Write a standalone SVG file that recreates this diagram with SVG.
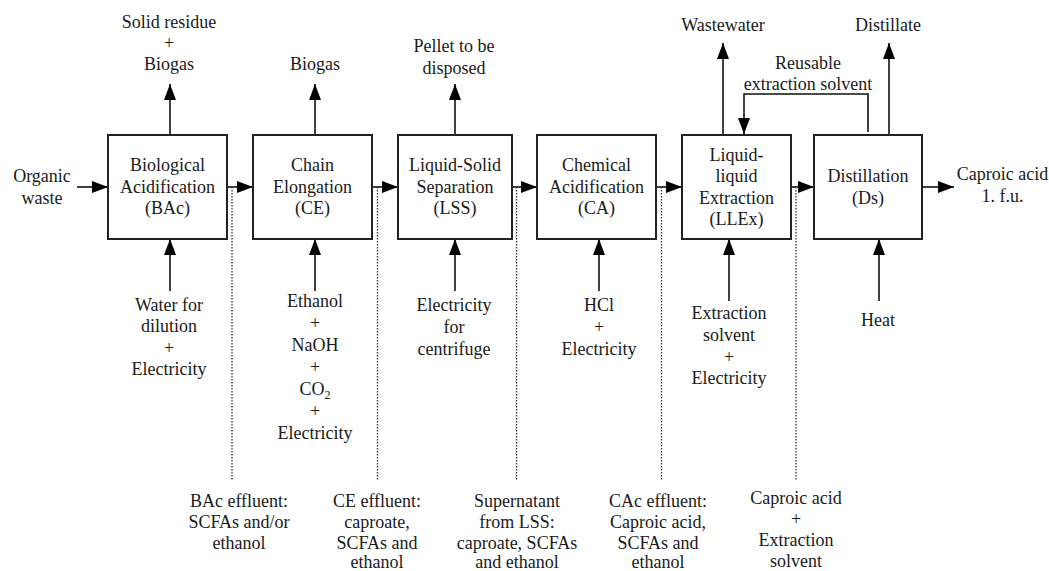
<svg xmlns="http://www.w3.org/2000/svg" width="1049" height="571" viewBox="0 0 1049 571">
<defs>
<marker id="ah" markerUnits="userSpaceOnUse" markerWidth="17" markerHeight="13" refX="16" refY="6" orient="auto">
<path d="M0,0 L16,6 L0,12 z" fill="#000"/>
</marker>
<style>
text{font-family:"Liberation Serif","Times New Roman",serif;font-size:18px;fill:#1a1a1a;text-anchor:middle}
.box{fill:#fff;stroke:#222;stroke-width:2}
.ar{fill:none;stroke:#111;stroke-width:1.6;marker-end:url(#ah)}
.dot{fill:none;stroke:#333;stroke-width:1.3;stroke-dasharray:1.5,1.5}
.sub{font-size:12px}
</style>
</defs>
<rect width="1049" height="571" fill="#fff"/>

<g id="connectors">
<line class="ar" x1="77" y1="187" x2="108" y2="187"/>
<line class="ar" x1="227" y1="187" x2="253" y2="187"/>
<line class="ar" x1="372" y1="187" x2="398" y2="187"/>
<line class="ar" x1="512" y1="187" x2="537" y2="187"/>
<line class="ar" x1="656" y1="187" x2="682" y2="187"/>
<line class="ar" x1="791" y1="187" x2="814" y2="187"/>
<line class="ar" x1="922" y1="187" x2="954" y2="187"/>
<line class="ar" x1="170" y1="135" x2="170" y2="84"/>
<line class="ar" x1="315" y1="135" x2="315" y2="84"/>
<line class="ar" x1="455" y1="135" x2="455" y2="84"/>
<line class="ar" x1="723" y1="135" x2="723" y2="43"/>
<line class="ar" x1="889" y1="135" x2="889" y2="43"/>
<polyline class="ar" points="868,132 868,94 744,94 744,134"/>
<line class="ar" x1="170" y1="291" x2="170" y2="239"/>
<line class="ar" x1="315" y1="291" x2="315" y2="239"/>
<line class="ar" x1="455" y1="291" x2="455" y2="239"/>
<line class="ar" x1="599" y1="291" x2="599" y2="239"/>
<line class="ar" x1="729" y1="301" x2="729" y2="239"/>
<line class="ar" x1="879" y1="301" x2="879" y2="239"/>
<line class="dot" x1="232" y1="187" x2="232" y2="480"/>
<line class="dot" x1="377.5" y1="187" x2="377.5" y2="480"/>
<line class="dot" x1="516.5" y1="187" x2="516.5" y2="480"/>
<line class="dot" x1="661.5" y1="187" x2="661.5" y2="480"/>
<line class="dot" x1="796" y1="187" x2="796" y2="480"/>
</g>

<g id="node-bac">
<rect class="box" x="108" y="135" width="119" height="104"/>
<text x="167.5" y="171">Biological</text>
<text x="167.5" y="192.5">Acidification</text>
<text x="167.5" y="214">(BAc)</text>
</g>
<g id="node-ce">
<rect class="box" x="253" y="135" width="119" height="104"/>
<text x="312.5" y="171">Chain</text>
<text x="312.5" y="192.5">Elongation</text>
<text x="312.5" y="214">(CE)</text>
</g>
<g id="node-lss">
<rect class="box" x="398" y="135" width="114" height="104"/>
<text x="455" y="171">Liquid-Solid</text>
<text x="455" y="192.5">Separation</text>
<text x="455" y="214">(LSS)</text>
</g>
<g id="node-ca">
<rect class="box" x="537" y="135" width="119" height="104"/>
<text x="596.5" y="171">Chemical</text>
<text x="596.5" y="192.5">Acidification</text>
<text x="596.5" y="214">(CA)</text>
</g>
<g id="node-llex">
<rect class="box" x="682" y="135" width="109" height="104"/>
<text x="736.5" y="160.5">Liquid-</text>
<text x="736.5" y="182">liquid</text>
<text x="736.5" y="203.5">Extraction</text>
<text x="736.5" y="225">(LLEx)</text>
</g>
<g id="node-ds">
<rect class="box" x="814" y="135" width="108" height="104"/>
<text x="868" y="182">Distillation</text>
<text x="868" y="203.5">(Ds)</text>
</g>

<g id="labels">
<text x="42" y="182">Organic</text>
<text x="42" y="203.5">waste</text>
<text x="1002.5" y="180">Caproic acid</text>
<text x="1002.5" y="202">1. f.u.</text>

<text x="169" y="28">Solid residue</text>
<text x="169" y="49">+</text>
<text x="169" y="70">Biogas</text>
<text x="315" y="70">Biogas</text>
<text x="454" y="52">Pellet to be</text>
<text x="454" y="73.5">disposed</text>
<text x="723" y="30.5">Wastewater</text>
<text x="888" y="30.5">Distillate</text>
<text x="808" y="69">Reusable</text>
<text x="808" y="90">extraction solvent</text>

<text x="169" y="310.5">Water for</text>
<text x="169" y="332">dilution</text>
<text x="169" y="353.5">+</text>
<text x="169" y="375">Electricity</text>

<text x="315" y="307">Ethanol</text>
<text x="315" y="329">+</text>
<text x="315" y="351">NaOH</text>
<text x="315" y="373">+</text>
<text x="315" y="395">CO<tspan class="sub" dy="4">2</tspan></text>
<text x="315" y="417">+</text>
<text x="315" y="439">Electricity</text>

<text x="454" y="310.5">Electricity</text>
<text x="454" y="332.5">for</text>
<text x="454" y="354.5">centrifuge</text>

<text x="599" y="310.5">HCl</text>
<text x="599" y="332.5">+</text>
<text x="599" y="354.5">Electricity</text>

<text x="729" y="318.5">Extraction</text>
<text x="729" y="340.5">solvent</text>
<text x="729" y="362.5">+</text>
<text x="729" y="384">Electricity</text>

<text x="878" y="325.5">Heat</text>

<text x="239" y="507">BAc effluent:</text>
<text x="239" y="528">SCFAs and/or</text>
<text x="239" y="549">ethanol</text>

<text x="377" y="507">CE effluent:</text>
<text x="377" y="528">caproate,</text>
<text x="377" y="549">SCFAs and</text>
<text x="377" y="568">ethanol</text>

<text x="517" y="507">Supernatant</text>
<text x="517" y="528">from LSS:</text>
<text x="517" y="549">caproate, SCFAs</text>
<text x="517" y="568">and ethanol</text>

<text x="658" y="507">CAc effluent:</text>
<text x="658" y="528">Caproic acid,</text>
<text x="658" y="549">SCFAs and</text>
<text x="658" y="568">ethanol</text>

<text x="796" y="504">Caproic acid</text>
<text x="796" y="525">+</text>
<text x="796" y="546">Extraction</text>
<text x="796" y="567">solvent</text>
</g>
</svg>
